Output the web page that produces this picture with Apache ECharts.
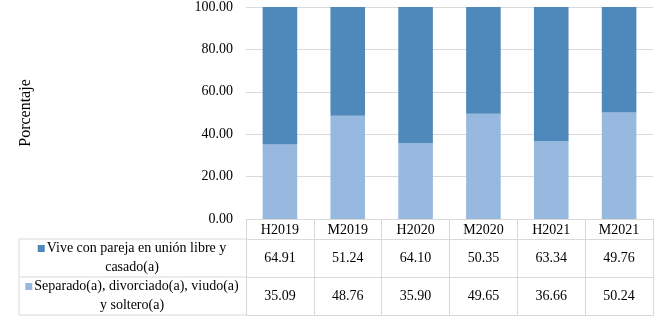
<!DOCTYPE html>
<html>
<head>
<meta charset="utf-8">
<script src="https://cdn.jsdelivr.net/npm/echarts@6/dist/echarts.min.js"></script>
<style>
  html,body{margin:0;padding:0;background:#fff;}
  #main{width:663px;height:321px;}
</style>
</head>
<body>
<div id="main"></div>
<script>
var categories = ['H2019','M2019','H2020','M2020','H2021','M2021'];
var viveName = 'Vive con pareja en unión libre y\ncasado(a)';
var sepName = 'Separado(a), divorciado(a), viudo(a)\ny soltero(a)';
var viveVals = [64.91, 51.24, 64.10, 50.35, 63.34, 49.76];
var sepVals = [35.09, 48.76, 35.90, 49.65, 36.66, 50.24];
var yTicks = [0, 20, 40, 60, 80, 100];

var darkBlue = '#4f89bc';
var lightBlue = '#98b9df';
var lineCol = '#d9d9d9';
var fontFam = '"Liberation Serif","Times New Roman",serif';

var myChart = echarts.init(document.getElementById('main'));

// extra x axes under the grid act as the rows of the data table
function tableAxis(offset, tickLen, vals, margin){
  return {
    type: 'category',
    data: categories,
    position: 'bottom',
    offset: offset,
    axisLine: {show: true, lineStyle: {color: lineCol, width: 1}},
    axisTick: {show: tickLen > 0, length: tickLen, alignWithLabel: false, lineStyle: {color: lineCol}},
    axisLabel: {
      show: vals != null,
      margin: margin,
      color: '#000',
      fontFamily: fontFam,
      fontSize: 14,
      formatter: function(v, i){ return vals ? vals[i].toFixed(2) : v; }
    }
  };
}

function rowLabel(name, color, y){
  return {
    type: 'text',
    x: 132,
    y: y,
    style: {
      text: '{sq|}{gap|}' + name,
      align: 'center',
      verticalAlign: 'middle',
      fill: '#000',
      font: '14px ' + fontFam,
      lineHeight: 19,
      rich: {
        sq: {backgroundColor: color, width: 7, height: 7, padding: 0},
        gap: {width: 2, height: 7}
      }
    }
  };
}

function hline(y){
  return {type: 'line', shape: {x1: 19, y1: y, x2: 246, y2: y}, style: {stroke: lineCol, lineWidth: 1}};
}

var option = {
  animation: false,
  backgroundColor: '#fff',
  grid: {left: 246, right: 10, top: 7, bottom: 102, containLabel: false},
  xAxis: [
    {
      type: 'category',
      data: categories,
      position: 'bottom',
      axisLine: {show: true, lineStyle: {color: lineCol}},
      axisTick: {show: true, length: 20, alignWithLabel: false, lineStyle: {color: lineCol}},
      axisLabel: {margin: 4, color: '#000', fontFamily: fontFam, fontSize: 14}
    },
    tableAxis(20, 38, viveVals, 12),
    tableAxis(58, 38, sepVals, 12),
    tableAxis(96, 0, null, 0)
  ],
  yAxis: {
    type: 'value',
    min: yTicks[0],
    max: yTicks[yTicks.length - 1],
    interval: 20,
    name: 'Porcentaje',
    nameLocation: 'middle',
    nameGap: 212,
    nameTextStyle: {color: '#000', fontFamily: fontFam, fontSize: 16},
    axisLine: {show: false},
    axisTick: {show: false},
    axisLabel: {
      margin: 13,
      color: '#000',
      fontFamily: fontFam,
      fontSize: 14,
      formatter: function(v){ return v.toFixed(2); }
    },
    splitLine: {lineStyle: {color: lineCol}}
  },
  series: [
    {
      name: 'sep',
      type: 'bar',
      stack: 'total',
      barWidth: '51%',
      itemStyle: {color: lightBlue},
      data: sepVals
    },
    {
      name: 'vive',
      type: 'bar',
      stack: 'total',
      barWidth: '51%',
      itemStyle: {color: darkBlue},
      data: viveVals
    }
  ],
  graphic: [
    hline(239),
    hline(277),
    hline(315),
    {type: 'line', shape: {x1: 19, y1: 239, x2: 19, y2: 315}, style: {stroke: lineCol, lineWidth: 1}},
    rowLabel(viveName, darkBlue, 258),
    rowLabel(sepName, lightBlue, 296)
  ]
};
myChart.setOption(option);
</script>
</body>
</html>
